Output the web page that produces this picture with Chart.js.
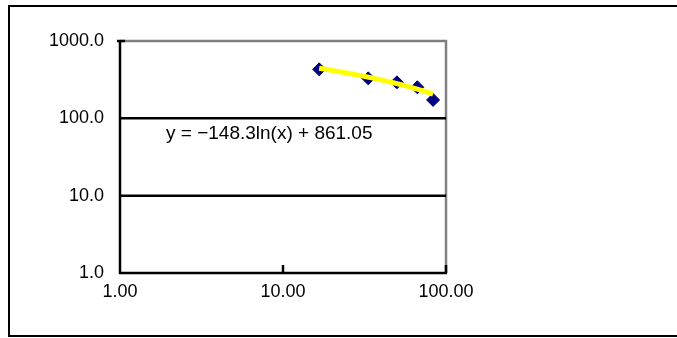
<!DOCTYPE html>
<html><head><meta charset="utf-8">
<script src="https://cdn.jsdelivr.net/npm/chart.js@4/dist/chart.umd.min.js"></script>
<style>html,body{margin:0;padding:0;background:#fff;}canvas{display:block;}</style>
</head><body>
<canvas id="c" width="677" height="338"></canvas>
<script>
// Data
const xValues = [16.67, 33.33, 50, 66.67, 83.33];
const yValues = [430, 329, 292, 252, 173];
// Trendline y = -148.3ln(x) + 861.05, sampled values
const trendX = [16.67, 20, 25, 30, 35, 40, 45, 50, 55, 60, 65, 70, 75, 80, 83.33];
const trendY = [443.8, 416.8, 383.7, 356.7, 333.8, 314.0, 296.5, 280.9, 266.8, 253.9, 242.0, 231.0, 220.8, 211.2, 205.2];
const xTicks = [1, 10, 100];
const yTicks = [1, 10, 100, 1000];
const equationLabel = 'y = \u2212148.3ln(x) + 861.05';

const FONT = '"Liberation Sans", Arial, sans-serif';

const framePlugin = {
  id: 'frame',
  beforeDraw(chart) {
    const ctx = chart.ctx;
    ctx.save();
    ctx.fillStyle = '#fff';
    ctx.fillRect(0, 0, chart.width, chart.height);
    ctx.strokeStyle = '#000';
    ctx.lineWidth = 2;
    ctx.strokeRect(9, 6, 700, 330);
    ctx.restore();
  },
  beforeDatasetsDraw(chart) {
    const ctx = chart.ctx;
    const xs = chart.scales.x, ys = chart.scales.y;
    const L = xs.getPixelForValue(1), R = xs.getPixelForValue(100);
    const T = ys.getPixelForValue(1000), B = ys.getPixelForValue(1);
    ctx.save();
    ctx.lineCap = 'butt';
    ctx.strokeStyle = '#808080';
    ctx.lineWidth = 2.5;
    ctx.beginPath();
    ctx.moveTo(L, T); ctx.lineTo(R, T); ctx.lineTo(R, B);
    ctx.stroke();
    ctx.strokeStyle = '#000';
    ctx.lineWidth = 2.5;
    [10, 100].forEach(v => {
      const y = ys.getPixelForValue(v);
      ctx.beginPath(); ctx.moveTo(L, y); ctx.lineTo(R, y); ctx.stroke();
    });
    ctx.beginPath(); ctx.moveTo(L - 3, T); ctx.lineTo(L + 5, T); ctx.stroke();
    [10, 100].forEach(v => {
      const x = xs.getPixelForValue(v);
      ctx.beginPath(); ctx.moveTo(x, B); ctx.lineTo(x, B - 8); ctx.stroke();
    });
    ctx.beginPath(); ctx.moveTo(L, T - 1); ctx.lineTo(L, B); ctx.lineTo(R + 1, B); ctx.stroke();
    ctx.fillStyle = '#000';
    ctx.font = '19px ' + FONT;
    ctx.textBaseline = 'middle';
    ctx.textAlign = 'left';
    ctx.fillText(equationLabel, 166, 134);
    ctx.restore();
  }
};

new Chart(document.getElementById('c'), {
  type: 'scatter',
  data: {
    datasets: [
      {
        type: 'line',
        data: trendX.map((x, i) => ({x, y: trendY[i]})),
        borderColor: '#FFFF00',
        borderWidth: 5,
        pointRadius: 0,
        tension: 0.3,
        order: 0
      },
      {
        data: xValues.map((x, i) => ({x, y: yValues[i]})),
        backgroundColor: '#000080',
        borderColor: '#000080',
        pointStyle: 'rectRot',
        pointRadius: 6.5,
        order: 1
      }
    ]
  },
  plugins: [framePlugin],
  options: {
    responsive: false,
    animation: false,
    layout: { padding: { left: 0, right: 231, top: 41, bottom: 15 } },
    plugins: { legend: { display: false }, tooltip: { enabled: false } },
    scales: {
      x: {
        type: 'logarithmic', min: 1, max: 100,
        border: { display: false },
        grid: { display: false, drawTicks: false },
        afterBuildTicks: s => { s.ticks = xTicks.map(v => ({value: v})); },
        afterFit: s => { s.height = 50; },
        ticks: {
          color: '#000', padding: 8, maxRotation: 0, autoSkip: false,
          font: { family: FONT, size: 18 },
          callback: v => Number(v).toFixed(2)
        }
      },
      y: {
        type: 'logarithmic', min: 1, max: 1000,
        border: { display: false },
        grid: { display: false, drawTicks: false },
        afterBuildTicks: s => { s.ticks = yTicks.map(v => ({value: v})); },
        afterFit: s => { s.width = 120; },
        ticks: {
          color: '#000', padding: 16, autoSkip: false,
          font: { family: FONT, size: 18 },
          callback: v => Number(v).toFixed(1)
        }
      }
    }
  }
});
</script>
</body></html>
